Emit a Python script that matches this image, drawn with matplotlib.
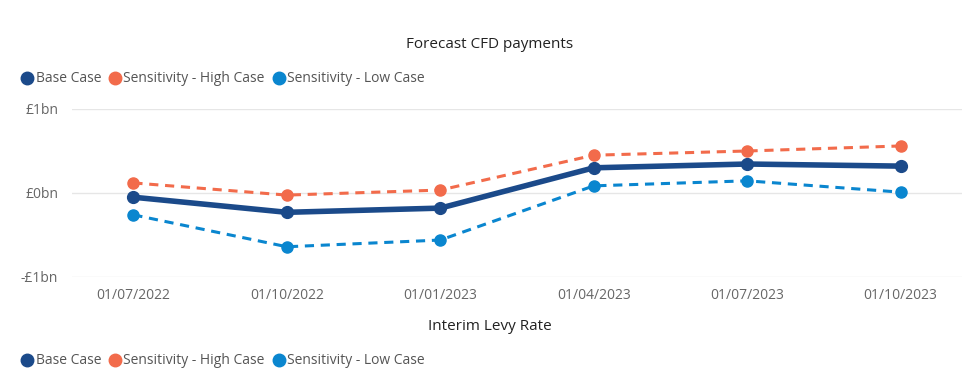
import matplotlib.pyplot as plt
from matplotlib.lines import Line2D

# ---------------- data ----------------
dates = ["01/07/2022", "01/10/2022", "01/01/2023", "01/04/2023", "01/07/2023", "01/10/2023"]
base_case = [-0.05, -0.23, -0.18, 0.30, 0.345, 0.32]
high_case = [0.12, -0.025, 0.035, 0.45, 0.50, 0.56]
low_case = [-0.26, -0.64, -0.56, 0.085, 0.145, 0.01]
yticks = [-1, 0, 1]
ytick_labels = ["-£1bn", "£0bn", "£1bn"]
series_names = ["Base Case", "Sensitivity - High Case", "Sensitivity - Low Case"]

c_base = "#1B4A8A"
c_high = "#F26B4B"
c_low = "#0A86CF"

plt.rcParams['font.family'] = ['Open Sans', 'DejaVu Sans']

fig = plt.figure(figsize=(9.63, 3.82), dpi=100)
ax = fig.add_axes([72/963, 1-277/382, 890/963, 168/382])

x = range(len(dates))
ax.plot(x, low_case, "o--", color=c_low, lw=2.2, ms=8, dashes=(3, 2.2), zorder=3)
ax.plot(x, high_case, "o--", color=c_high, lw=2.2, ms=8, dashes=(3, 2.2), zorder=3)
ax.plot(x, base_case, "o-", color=c_base, lw=4, ms=8.5, zorder=4)

ax.set_xlim(-0.4, 5.4)
ax.set_ylim(-1, 1)
ax.set_xticks(list(x))
ax.set_xticklabels(dates)
ax.set_yticks(yticks)
ax.set_yticklabels(ytick_labels)
ax.tick_params(length=0, labelsize=10, colors="#666666", pad=8)
ax.tick_params(axis="y", pad=10)
ax.grid(axis="y", color="#E6E6E6", lw=1)
ax.set_axisbelow(True)
for s in ax.spines.values():
    s.set_visible(False)

# titles
fig.text(490/963, 1-44/382, "Forecast CFD payments", ha="center", va="center", fontsize=11, color="#222222")
fig.text(490/963, 1-326/382, "Interim Levy Rate", ha="center", va="center", fontsize=11, color="#222222")

# legends
handles = [Line2D([], [], marker="o", ls="", color=c, ms=9) for c in (c_base, c_high, c_low)]
for ypix in (79, 361):
    fig.legend(handles, series_names, loc="center left", bbox_to_anchor=(19/963, 1-ypix/382),
               ncol=3, frameon=False, handletextpad=0.0, columnspacing=0.4, handlelength=1.2,
               prop={"size": 10}, labelcolor="#555555", borderaxespad=0, borderpad=0)

fig.savefig("out.png", dpi=100)
